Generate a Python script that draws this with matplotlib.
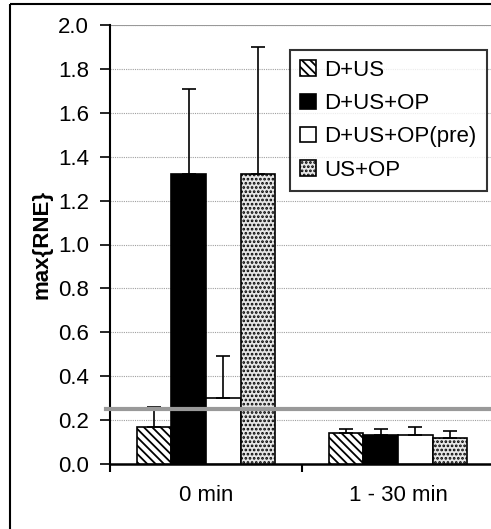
import matplotlib

matplotlib.use("Agg")

import matplotlib.pyplot as plt
import numpy as np
from matplotlib.patches import Rectangle

plt.rcParams["font.family"] = ["Liberation Sans", "DejaVu Sans"]
plt.rcParams["hatch.linewidth"] = 1.3

# Données
categories = ["0 min", "1 - 30 min"]
series = ["D+US", "D+US+OP", "D+US+OP(pre)", "US+OP"]
means = {
    "D+US": [0.17, 0.14],
    "D+US+OP": [1.32, 0.13],
    "D+US+OP(pre)": [0.30, 0.13],
    "US+OP": [1.32, 0.12],
}
errors = {
    "D+US": [0.09, 0.02],
    "D+US+OP": [0.39, 0.03],
    "D+US+OP(pre)": [0.19, 0.04],
    "US+OP": [0.58, 0.03],
}
threshold = 0.25

styles = {
    "D+US": dict(facecolor="white", hatch="\\\\\\\\"),
    "D+US+OP": dict(facecolor="black", hatch=None),
    "D+US+OP(pre)": dict(facecolor="white", hatch=None),
    "US+OP": dict(facecolor="#e6e6e6", hatch="...."),
}

fig = plt.figure(figsize=(4.91, 5.29), dpi=100)
ax = fig.add_axes([110 / 491, 1 - 464 / 529, 384 / 491, 439 / 529])

# cadre extérieur
fig.patches.append(Rectangle((10 / 491, 1 - 4 / 529), 1.2, -1.2, transform=fig.transFigure,
                             fill=False, edgecolor="black", linewidth=1.5))

x = np.arange(len(categories))
width = 0.18
for k, s in enumerate(series):
    pos = x + (k - 1.5) * width
    ax.bar(pos, means[s], width, edgecolor="black", linewidth=1.2, label=s,
           zorder=3, **styles[s])
    ax.errorbar(pos, means[s], yerr=[np.zeros(len(categories)), errors[s]],
                fmt="none", ecolor="black", elinewidth=1.2, capsize=5, capthick=1.2,
                zorder=4)

ax.axhline(threshold, xmin=-0.01, color="#999999", linewidth=3, zorder=5, clip_on=False)

ax.set_xlim(-0.5, 1.5)
ax.set_ylim(0, 2.0)
ax.set_yticks(np.arange(0, 2.01, 0.2))
ax.set_yticklabels([f"{v:.1f}" for v in np.arange(0, 2.01, 0.2)], fontsize=16)
ax.yaxis.grid(True, color="#a0a0a0", linestyle=(0, (1, 1)), linewidth=0.8)
ax.axhline(2.0, color="#999999", linewidth=1.5, zorder=2)
ax.set_xticks([-0.5, 0.5, 1.5], minor=False)
ax.set_xticklabels([])
ax.set_xticks(x, minor=True)
ax.set_xticklabels(categories, minor=True, fontsize=16)
ax.tick_params(axis="x", which="minor", length=0, pad=15)
ax.tick_params(axis="x", which="major", length=6, width=1.5, direction="out")
ax.tick_params(axis="y", length=7, width=1.2, direction="out", pad=8)
for side in ["top", "right"]:
    ax.spines[side].set_visible(False)
ax.spines["left"].set_linewidth(1.5)
ax.spines["bottom"].set_linewidth(1.8)

ax.set_ylabel("max{RNE}", fontsize=16, fontweight="bold", labelpad=4)

leg = ax.legend(loc="upper left", bbox_to_anchor=((290 - 110) / 384, 1 - (50 - 25) / 439),
                fontsize=16, frameon=True, fancybox=False, edgecolor="black",
                handlelength=0.7, handleheight=0.7, handletextpad=0.4,
                labelspacing=0.55, borderaxespad=0, borderpad=0.45)
leg.get_frame().set_linewidth(1.5)

fig.savefig("out.png", dpi=100)
